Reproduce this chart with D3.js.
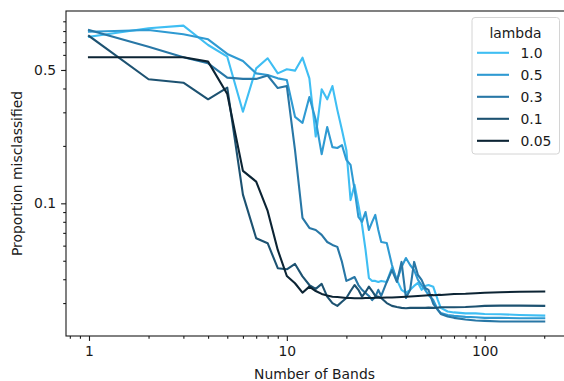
<!DOCTYPE html>
<html>
<head>
<meta charset="utf-8">
<script src="https://cdn.jsdelivr.net/npm/d3@7"></script>
<style>
  body { margin: 0; background: #fff; }
  svg text { font-family: "DejaVu Sans", sans-serif; fill: #1a1a1a; }
</style>
</head>
<body>
<svg id="chart" width="564" height="381"></svg>
<script>
// number of bands (x) shared by every series
const bands = [1, 2, 3, 4, 5, 6, 7, 8, 9, 10, 11, 12, 13, 14, 15, 16, 17, 18, 19, 20,
  21, 22, 23, 24, 25, 26, 27, 28, 29, 30, 32, 34, 36, 38, 40, 42, 44, 46, 48, 50,
  52, 55, 58, 60, 65, 70, 80, 90, 100, 120, 150, 200]

// proportion misclassified, one array per lambda
const lam10 = [0.747, 0.827, 0.854, 0.676, 0.587, 0.302, 0.510, 0.576, 0.480, 0.504,
  0.496, 0.580, 0.452, 0.224, 0.396, 0.351, 0.412, 0.309, 0.242, 0.190,
  0.104, 0.125, 0.098, 0.077, 0.057, 0.0406, 0.0392, 0.0392, 0.0387, 0.0392,
  0.0387, 0.046, 0.0397, 0.0352, 0.0339, 0.0352, 0.0369, 0.0383, 0.0352, 0.0369,
  0.0373, 0.0365, 0.0311, 0.0283, 0.0271, 0.0268, 0.0265, 0.0265, 0.0263, 0.0262, 0.0260, 0.0258]
const lam05 = [0.794, 0.810, 0.769, 0.724, 0.607, 0.557, 0.480, 0.471, 0.452, 0.443,
  0.284, 0.264, 0.361, 0.274, 0.181, 0.251, 0.197, 0.195, 0.202, 0.169,
  0.159, 0.118, 0.0849, 0.0799, 0.0901, 0.0725, 0.0799, 0.0869, 0.0725, 0.0627,
  0.0620, 0.0475, 0.0392, 0.0464, 0.0517, 0.0475, 0.0447, 0.0397, 0.0373, 0.0352,
  0.0331, 0.0311, 0.0276, 0.0266, 0.0260, 0.0257, 0.0254, 0.0253, 0.0251, 0.0251, 0.0250, 0.0250]
const lam03 = [0.810, 0.662, 0.583, 0.542, 0.456, 0.449, 0.449, 0.468, 0.402, 0.412,
  0.190, 0.0838, 0.0743, 0.0725, 0.0683, 0.0627, 0.0605, 0.0591, 0.0493, 0.0392,
  0.0401, 0.0411, 0.0373, 0.0352, 0.0339, 0.0327, 0.0311, 0.0323, 0.0352, 0.0327,
  0.0387, 0.0447, 0.0387, 0.0493, 0.0319, 0.0352, 0.0493, 0.0421, 0.0397, 0.0360,
  0.0352, 0.0297, 0.0276, 0.0263, 0.0255, 0.0251, 0.0246, 0.0243, 0.0242, 0.0240, 0.0240, 0.0240]
const lam01 = [0.754, 0.447, 0.429, 0.351, 0.404, 0.111, 0.0656, 0.0618, 0.0457, 0.0451,
  0.0481, 0.0414, 0.0373, 0.0356, 0.0378, 0.0324, 0.0300, 0.0290, 0.0305, 0.0319,
  0.0347, 0.0373, 0.0352, 0.0324, 0.0343, 0.0366, 0.0347, 0.0327, 0.0324, 0.0319,
  0.0300, 0.0290, 0.0286, 0.0283, 0.0282, 0.0283, 0.0283, 0.0283, 0.0283, 0.0283,
  0.0284, 0.0283, 0.0284, 0.0285, 0.0285, 0.0285, 0.0286, 0.0288, 0.0290, 0.0291, 0.0291, 0.0290]
const lam005 = [0.583, 0.583, 0.583, 0.553, 0.374, 0.148, 0.130, 0.0912, 0.0570, 0.0416,
  0.0381, 0.0340, 0.0366, 0.0347, 0.0335, 0.0329, 0.0324, 0.0323, 0.0321, 0.0319,
  0.0319, 0.0318, 0.0318, 0.0318, 0.0319, 0.0319, 0.0319, 0.0320, 0.0320, 0.0320,
  0.0321, 0.0321, 0.0322, 0.0323, 0.0324, 0.0325, 0.0326, 0.0327, 0.0328, 0.0329,
  0.0330, 0.0330, 0.0331, 0.0331, 0.0333, 0.0335, 0.0336, 0.0338, 0.0340, 0.0342, 0.0344, 0.0345]

const lambdas = ["1.0", "0.5", "0.3", "0.1", "0.05"]
const seriesValues = [lam10, lam05, lam03, lam01, lam005]
const colors = ["#3fbef3", "#2f9ad2", "#2877a6", "#1d5271", "#0c2434"]

const xMajor = [1, 10, 100]
const xMajorLabels = ["1", "10", "100"]
const yMajor = [0.5, 0.1]
const yMajorLabels = ["0.5", "0.1"]

const svg = d3.select("#chart")
const margin = {left: 66, top: 11, bottom: 45}
const width = 564, height = 381

const x = d3.scaleLog()
  .domain([Math.pow(10, -0.1162), Math.pow(10, 2.4162)])
  .range([margin.left, 567])

const y = d3.scaleLog()
  .domain([Math.pow(10, -1.6955), Math.pow(10, 0.0082)])
  .range([height - margin.bottom, margin.top])

// minor ticks: 2..9 in every decade that falls in the domain
function minorTicks(scale) {
  const [lo, hi] = scale.domain()
  const out = []
  for (let e = Math.floor(Math.log10(lo)); e <= Math.ceil(Math.log10(hi)); e++) {
    for (let m = 2; m <= 9; m++) {
      const v = m * Math.pow(10, e)
      if (v >= lo && v <= hi) out.push(v)
    }
  }
  return out
}

const axisBottom = height - margin.bottom

// x axis
const gx = svg.append("g").attr("transform", `translate(0,${axisBottom})`)
gx.call(d3.axisBottom(x).tickValues(minorTicks(x)).tickSize(2.8).tickFormat(""))
gx.append("g").call(d3.axisBottom(x).tickValues(xMajor).tickSize(4.9).tickPadding(4.9)
  .tickFormat((d, i) => xMajorLabels[i]))

// y axis
const gy = svg.append("g").attr("transform", `translate(${margin.left},0)`)
gy.call(d3.axisLeft(y).tickValues(minorTicks(y)).tickSize(2.8).tickFormat(""))
gy.append("g").call(d3.axisLeft(y).tickValues(yMajor).tickSize(4.9).tickPadding(4.9)
  .tickFormat((d, i) => yMajorLabels[i]))

svg.selectAll(".domain").remove()
svg.selectAll(".tick line").attr("stroke", "#1a1a1a").attr("stroke-width", 1.1)
svg.selectAll(".tick text").attr("font-size", "13.9px").attr("fill", "#1a1a1a")
  .attr("font-family", "DejaVu Sans")

// lines
const line = d3.line()
  .x(d => x(d[0]))
  .y(d => y(d[1]))

svg.append("g").selectAll("path")
  .data(seriesValues)
  .join("path")
  .attr("fill", "none")
  .attr("stroke", (d, i) => colors[i])
  .attr("stroke-width", 2.1)
  .attr("stroke-linejoin", "round")
  .attr("stroke-linecap", "square")
  .attr("d", vals => line(vals.map((v, j) => [bands[j], v])))

// spines
svg.append("rect")
  .attr("x", margin.left).attr("y", margin.top)
  .attr("width", 567 - margin.left).attr("height", axisBottom - margin.top)
  .attr("fill", "none").attr("stroke", "#1a1a1a").attr("stroke-width", 1.1)

// axis labels
svg.append("text")
  .attr("x", (margin.left + 567) / 2 - 2).attr("y", 379)
  .attr("text-anchor", "middle").attr("font-size", "13.9px")
  .text("Number of Bands")

svg.append("text")
  .attr("transform", `translate(22,${(margin.top + axisBottom) / 2}) rotate(-90)`)
  .attr("text-anchor", "middle").attr("font-size", "13.9px")
  .text("Proportion misclassified")

// legend
const legend = svg.append("g").attr("transform", "translate(472,17.5)")
legend.append("rect")
  .attr("width", 87.5).attr("height", 136.5).attr("rx", 3)
  .attr("fill", "#fff").attr("fill-opacity", 0.8)
  .attr("stroke", "#d4d4d4").attr("stroke-width", 1)
legend.append("text")
  .attr("x", 43.5).attr("y", 20).attr("text-anchor", "middle")
  .attr("font-size", "13.9px").text("lambda")
lambdas.forEach((lab, i) => {
  const row = legend.append("g").attr("transform", `translate(0,${35.3 + i * 22})`)
  row.append("line").attr("x1", 5).attr("x2", 37)
    .attr("stroke", colors[i]).attr("stroke-width", 2.1)
  row.append("text").attr("x", 48.5).attr("y", 5)
    .attr("font-size", "13.9px").text(lab)
})
</script>
</body>
</html>
